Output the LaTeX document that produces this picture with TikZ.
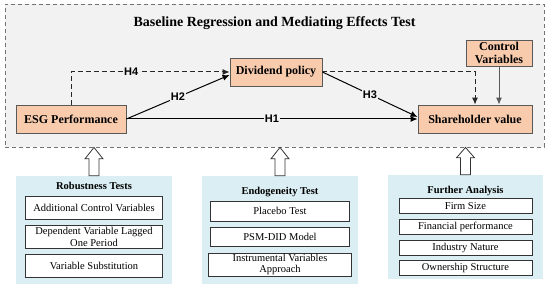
\documentclass[tikz,border=0pt]{standalone}
\usepackage{fontspec}
\setmainfont{Liberation Serif}
\setsansfont{Liberation Sans}
\usetikzlibrary{arrows.meta,positioning,calc}
\definecolor{peach}{RGB}{248,203,173}
\definecolor{panelbg}{RGB}{218,238,243}
\definecolor{framebg}{RGB}{242,242,242}
\definecolor{edge}{RGB}{89,89,89}
\tikzset{
  var/.style={draw=edge, fill=peach, line width=0.8pt, inner sep=1pt, align=center,
              font=\bfseries\fontsize{12}{13}\selectfont},
  frame/.style={draw=black!55, fill=framebg, line width=0.9pt, dash pattern=on 4pt off 3pt},
  link/.style={-{Latex[length=7pt,width=6pt]}, line width=1pt, black},
  dlink/.style={link, dash pattern=on 5pt off 3pt, draw=black!85},
  hyp/.style={font=\sffamily\bfseries\fontsize{11}{12}\selectfont, fill=framebg, inner sep=1pt},
  panel/.style={fill=panelbg, inner sep=0pt},
  ptitle/.style={font=\bfseries\fontsize{10.5}{12}\selectfont, inner sep=1pt},
  item/.style={draw=black!80, fill=white, line width=0.9pt, inner sep=1pt, align=center,
               font=\fontsize{10.5}{11.5}\selectfont, minimum width=#1},
  hollow/.style={draw=black!80, fill=white, line width=0.8pt, line join=miter},
}
\begin{document}
\begin{tikzpicture}[x=1pt, y=-1pt, node distance=5pt]
  \path[use as bounding box, fill=white] (0,0) rectangle (550,286);
  \node[frame, minimum width=539pt, minimum height=143pt] (base) at (274.5,75.5) {};
  \node[font=\bfseries\fontsize{14}{16}\selectfont, anchor=base] (ttl) at (274.5,27)
    {Baseline Regression and Mediating Effects Test};
  \node[var, minimum width=110pt, minimum height=28pt] (esg) at (71,119) {ESG Performance};
  \node[var, minimum width=92pt, minimum height=28pt] (div) at (276,72) {Dividend policy};
  \node[var, minimum width=114pt, minimum height=28pt] (sh) at (475,119) {Shareholder value};
  \node[var, minimum width=66pt, minimum height=26pt] (cv) at (499,53) {Control\\Variables};
  \draw[dlink] (esg.north) |- node[hyp, pos=0.69] {H4} (div.west);
  \draw[link] (esg.east) -- node[hyp] {H2} ($(div.west)+(0,3)$);
  \draw[link] (esg.east) -- node[hyp] {H1} (sh.west);
  \draw[link] (div.east) -- node[hyp] {H3} ($(sh.west)+(0,-2)$);
  \draw[dlink] (div.east) -| (sh.north);
  \draw[link, draw=edge] (cv.south) -- (cv.south |- sh.north);

  \node[panel, minimum width=156pt, minimum height=108pt] (rob) at (94,230) {};
  \node[ptitle, below=5pt of rob.north] (robT) {Robustness Tests};
  \node[item=137pt, minimum height=23pt, below=of robT] (rob1) {Additional Control Variables};
  \node[item=137pt, minimum height=23pt, below=5.5pt of rob1] (rob2) {Dependent Variable Lagged\\One Period};
  \node[item=137pt, minimum height=23pt, below=5.5pt of rob2] (rob3) {Variable Substitution};

  \node[panel, minimum width=156pt, minimum height=108pt] (endo) at (280,230) {};
  \node[ptitle, below=10pt of endo.north] (endoT) {Endogeneity Test};
  \node[item=139pt, minimum height=20pt, below=3pt of endoT] (endo1) {Placebo Test};
  \node[item=139pt, minimum height=19pt, below=of endo1] (endo2) {PSM-DID Model};
  \node[item=143pt, minimum height=23pt, below=6pt of endo2] (endo3) {Instrumental Variables\\Approach};

  \node[panel, minimum width=155pt, minimum height=104pt] (fur) at (465.5,227) {};
  \node[ptitle, below=10pt of fur.north] (furT) {Further Analysis};
  \node[item=133pt, minimum height=15pt, below=1pt of furT] (fur1) {Firm Size};
  \node[item=133pt, minimum height=15pt, below=of fur1] (fur2) {Financial performance};
  \node[item=133pt, minimum height=15pt, below=of fur2] (fur3) {Industry Nature};
  \node[item=133pt, minimum height=15pt, below=of fur3] (fur4) {Ownership Structure};

  \foreach \p in {rob,endo,fur}
    \draw[hollow] ($(\p.north)+(-5,0)$) -- ++(0,-17) -- ++(-4,0) -- (\p.north |- base.south)
      -- ($(\p.north)+(9,-17)$) -- ++(-4,0) -- ($(\p.north)+(5,0)$) -- cycle;
\end{tikzpicture}
\end{document}
